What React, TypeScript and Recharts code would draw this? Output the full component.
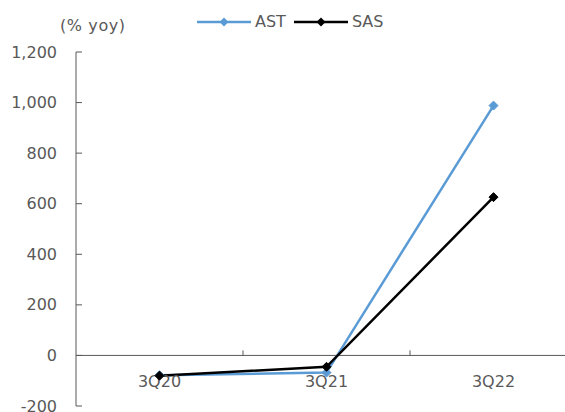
import React from 'react';
import { LineChart, Line, XAxis, YAxis, ReferenceLine, ReferenceDot, Label } from 'recharts';

const categories = ['3Q20', '3Q21', '3Q22'];
const astValues = [-78, -68, 988];
const sasValues = [-80, -45, 626];
const yTicks = [-200, 0, 200, 400, 600, 800, 1000, 1200];
const boundaries = [1, 2];

const AST_COLOR = '#5B9BD5';
const SAS_COLOR = '#000000';
const TEXT = '#595959';
const AXIS = '#595959';
const FONT = '"DejaVu Sans", Verdana, sans-serif';
const FS = 16;

const data = categories.map((c, i) => ({ x: i + 0.5, name: c, AST: astValues[i], SAS: sasValues[i] }));

const fmt = (v: number) => v.toLocaleString('en-US');

const Diamond = (color: string) => (props: any) => {
  const { cx, cy } = props;
  if (cx == null || cy == null) return null;
  const r = 4.5;
  return (
    <polygon
      key={`d-${cx}-${cy}`}
      points={`${cx},${cy - r} ${cx + r},${cy} ${cx},${cy + r} ${cx - r},${cy}`}
      fill={color}
      stroke={color}
      strokeWidth={1}
    />
  );
};

const YTick = (props: any) => {
  const { x, y, payload } = props;
  return (
    <g>
      <line x1={x} x2={x + 6} y1={y} y2={y} stroke={AXIS} strokeWidth={1} />
      <text x={x - 19} y={y} textAnchor="end" dominantBaseline="central" fill={TEXT} fontSize={FS} fontFamily={FONT}>
        {fmt(payload.value)}
      </text>
    </g>
  );
};

const LegendBox = () => {
  const item = (label: string, color: string) => (
    <div style={{ display: 'flex', alignItems: 'center', marginRight: 8 }}>
      <svg width={54} height={12} style={{ marginRight: 4 }}>
        <line x1={0} x2={54} y1={6} y2={6} stroke={color} strokeWidth={2.5} />
        <polygon points="27,1.5 31.5,6 27,10.5 22.5,6" fill={color} />
      </svg>
      <span style={{ color: TEXT, fontSize: FS, fontFamily: FONT, lineHeight: '20px' }}>{label}</span>
    </div>
  );
  return (
    <div style={{ position: 'absolute', top: 12, left: 197, display: 'flex', alignItems: 'center' }}>
      {item('AST', AST_COLOR)}
      {item('SAS', SAS_COLOR)}
    </div>
  );
};

export default function App() {
  return (
    <div style={{ position: 'absolute', left: 0, top: 0, width: 565, height: 412, overflow: 'hidden', background: '#fff' }}>
      <LineChart width={585} height={412} data={data} margin={{ top: 52, right: 8, left: 0, bottom: 6 }}>
        <XAxis dataKey="x" type="number" domain={[0, 3]} hide />
        <YAxis
          type="number"
          domain={[-200, 1200]}
          ticks={yTicks}
          width={76}
          interval={0}
          tickSize={0}
          tickMargin={0}
          tickLine={false}
          axisLine={{ stroke: AXIS, strokeWidth: 1 }}
          tick={<YTick />}
        >
          <Label
            content={() => (
              <text x={60} y={25} dominantBaseline="central" fill={TEXT} fontSize={FS} fontFamily={FONT} letterSpacing={0.6}>
                (% yoy)
              </text>
            )}
          />
        </YAxis>
        <ReferenceLine y={0} stroke={AXIS} strokeWidth={1} />
        {boundaries.map((b) => (
          <ReferenceLine
            key={`b${b}`}
            segment={[{ x: b, y: 0 }, { x: b, y: 20 }]}
            stroke={AXIS}
            strokeWidth={1}
          />
        ))}
        {data.map((d) => (
          <ReferenceDot
            key={d.name}
            x={d.x}
            y={0}
            r={0}
            shape={(p: any) => (
              <text x={p.cx} y={p.cy + 26} textAnchor="middle" dominantBaseline="central" fill={TEXT} fontSize={FS} fontFamily={FONT}>
                {d.name}
              </text>
            )}
          />
        ))}
        <Line
          type="linear"
          dataKey="AST"
          stroke={AST_COLOR}
          strokeWidth={2.5}
          dot={Diamond(AST_COLOR)}
          activeDot={false}
          isAnimationActive={false}
        />
        <Line
          type="linear"
          dataKey="SAS"
          stroke={SAS_COLOR}
          strokeWidth={2.5}
          dot={Diamond(SAS_COLOR)}
          activeDot={false}
          isAnimationActive={false}
        />
      </LineChart>
      <LegendBox />
    </div>
  );
}
